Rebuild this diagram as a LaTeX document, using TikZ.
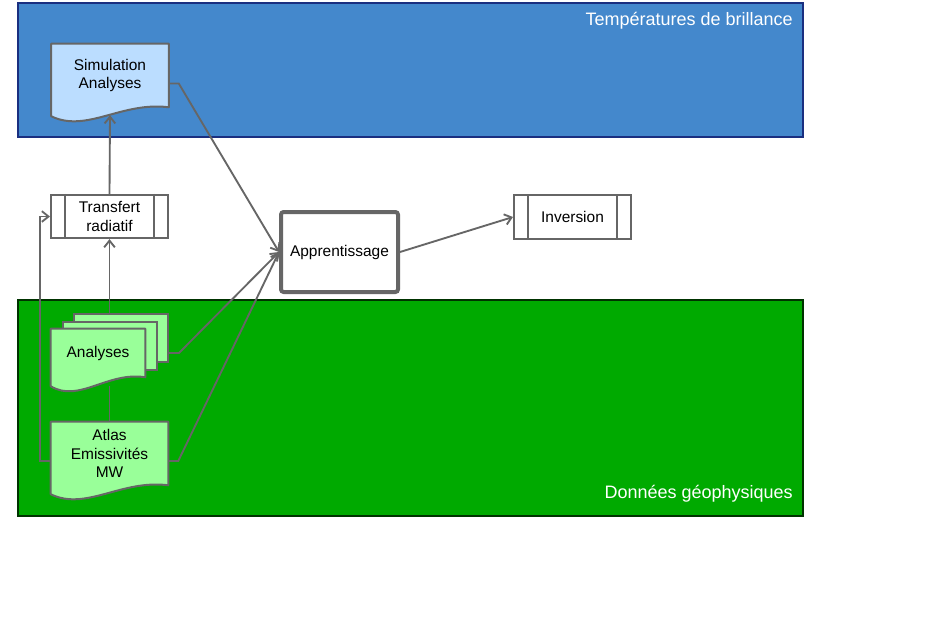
\documentclass[tikz,border=0pt]{standalone}
\usepackage{fontspec}
\setmainfont{Liberation Sans}
\usepackage{xcolor}
\definecolor{cLine}{HTML}{666666}
\definecolor{cBlue}{HTML}{4488CC}
\definecolor{cBlueEdge}{HTML}{1A2F80}
\definecolor{cGreen}{HTML}{00AA00}
\definecolor{cGreenEdge}{HTML}{003300}
\definecolor{cDocBlue}{HTML}{BBDDFF}
\definecolor{cDocGreen}{HTML}{99FF99}
\usepackage{tikz}
\usetikzlibrary{positioning,arrows.meta,calc}
\pgfdeclarelayer{bands}
\pgfdeclarelayer{docs}
\pgfsetlayers{bands,docs,main}
\tikzset{
  node-text/.style={font=\fontsize{11.6}{14}\selectfont,align=center,inner sep=0pt},
  node-doc/.style={node-text,minimum width=87.75pt,minimum height=47.25pt},
  node-page/.style={node-text,draw=cLine,line width=1.5pt,fill=cDocGreen,
    minimum width=70.5pt,minimum height=36pt},
  node-proc/.style={node-text,draw=cLine,line width=1.5pt,fill=white,
    minimum width=87.75pt,minimum height=32.5pt},
  node-learn/.style={node-text,draw=cLine,line width=3pt,fill=white,
    rounded corners=2pt,minimum width=87.75pt,minimum height=60pt},
  doc-edge/.style={draw=cLine,line width=1.5pt,line join=round},
  band-blue/.style={fill=cBlue,draw=cBlueEdge,line width=1.5pt},
  band-green/.style={fill=cGreen,draw=cGreenEdge,line width=1.5pt},
  band-title/.style={font=\fontsize{13.5}{15}\selectfont,text=white,
    anchor=base east,inner sep=0pt},
  arrow/.style={-{Straight Barb[length=5pt,width=8pt]},draw=cLine,line width=1.4pt},
  link/.style={draw=cLine,line width=1.4pt},
}
% document outline with a wavy bottom edge
\newcommand{\drawdoc}[2]{%
  \filldraw[doc-edge,fill=#2] (#1.north west) -- (#1.north east) -- (#1.south east)
    .. controls ($(#1.south west)!0.6!(#1.south east)+(0,-6)$)
       and ($(#1.south west)!0.3!(#1.south east)+(0,26)$) ..
    ($(#1.south west)+(0,9)$) -- cycle;}
% side bars of a process box
\newcommand{\procbars}[1]{%
  \draw[doc-edge] ([xshift=10.9pt]#1.north west) -- ([xshift=10.9pt]#1.south west);
  \draw[doc-edge] ([xshift=-10.9pt]#1.north east) -- ([xshift=-10.9pt]#1.south east);}

\begin{document}
\begin{tikzpicture}[x=0.75pt,y=-0.75pt]
  \useasboundingbox (0,0) rectangle (936,625);

  % bands
  \begin{pgfonlayer}{bands}
    \fill[white] (0,0) rectangle (936,625);
    \draw[band-blue]  (18,3)   rectangle (803,137);
    \draw[band-green] (18,300) rectangle (803,516);
  \end{pgfonlayer}
  \node[band-title] (t-blue)  at (793,25)  {Températures de brillance};
  \node[band-title] (t-green) at (793,498) {Données géophysiques};

  % nodes
  \node[node-doc] (sim)   at (110,75.5)  {Simulation\\Analyses};
  \node[node-doc] (atlas) at (109.5,453.5) {Atlas\\Emissivités\\MW};
  \node[node-doc,minimum width=70.5pt,minimum height=36pt] (ana) at (98,353) {Analyses};
  \node[node-proc] (trans) at (109.5,216.5) {Transfert\\radiatif};
  \node[node-learn] (learn) at (339.5,252) {Apprentissage};
  \node[node-proc,minimum height=33pt] (inv) at (572.5,217) {Inversion};
  \procbars{trans}
  \procbars{inv}
  \coordinate (ana-foot) at (109.5,386);

  \begin{pgfonlayer}{docs}
    \node[node-page] (ana-back) at (121,338) {};
    \node[node-page] (ana-mid)  at (109.5,345.5) {};
    \drawdoc{sim}{cDocBlue}
    \drawdoc{ana}{cDocGreen}
    \drawdoc{atlas}{cDocGreen}
  \end{pgfonlayer}

  % connectors
  \draw[link]  (ana-foot) -- (atlas.north);
  \draw[arrow] (ana-back.north -| trans) -- (trans.south);
  \draw[arrow] (trans.north) -- ($(sim.south)+(0,8)$);
  \draw[arrow] ($(atlas.west)+(0,7.5)$) -- ++(-11,0) |- (trans.west);
  \draw[arrow] ($(sim.east)+(0,8)$) -- ++(10,0) -- (learn.west);
  \draw[arrow] ($(ana-back.east)+(0,15)$) -- ++(10,0) -- (learn.west);
  \draw[arrow] ($(atlas.east)+(0,7.5)$) -- ++(10,0) -- (learn.west);
  \draw[arrow] (learn.east) -- (inv.west);
\end{tikzpicture}
\end{document}
